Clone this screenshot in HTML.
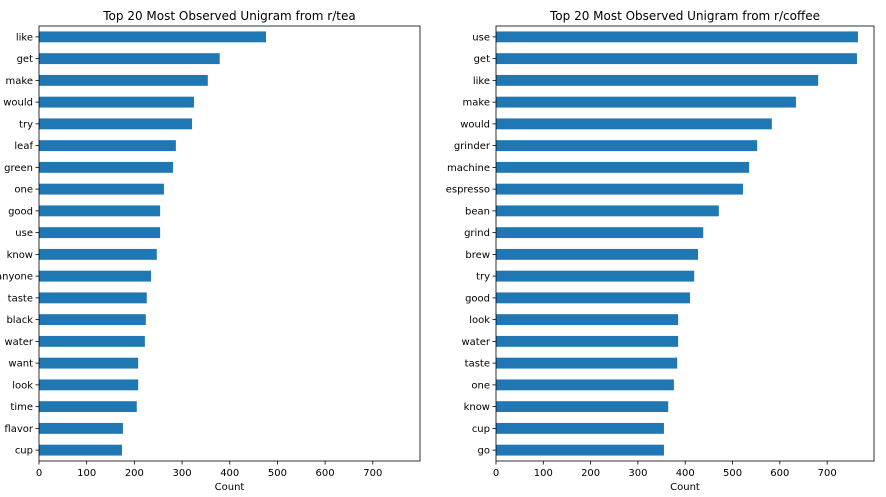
<!DOCTYPE html>
<html><head><meta charset="utf-8"><style>
body{margin:0;background:#fff;}
svg{display:block;font-family:"DejaVu Sans","Liberation Sans",sans-serif;}
</style></head><body>
<svg id="chart" width="886" height="497" viewBox="0 0 886 497"></svg>
<script>
const teaWords = ["like","get","make","would","try","leaf","green","one","good","use","know","anyone","taste","black","water","want","look","time","flavor","cup"];
const teaCounts = [476,379,354,325,321,287,281,262,254,254,247,235,226,224,222,208,208,205,176,174];
const coffeeWords = ["use","get","like","make","would","grinder","machine","espresso","bean","grind","brew","try","good","look","water","taste","one","know","cup","go"];
const coffeeCounts = [765,763,681,634,583,552,535,522,471,438,427,419,410,385,385,383,376,364,355,355];
const xTicks = [0,100,200,300,400,500,600,700];
const xMax = 799;

const svg = document.getElementById('chart');
const NS = 'http://www.w3.org/2000/svg';
function mk(tag, attrs, parent){ const e=document.createElementNS(NS,tag); for(const k in attrs) e.setAttribute(k,attrs[k]); (parent||svg).appendChild(e); return e; }

function panel(name, left, right, title, words, counts){
  const top=26, bottom=461;
  const g = mk('g',{});
  
  
  const xs = v => left + v/xMax*(right-left);
  const step = (bottom-top)/words.length;
  const yc = i => top + step*(i+0.5);
  words.forEach((w,i)=>{
    const r = mk('rect',{x:xs(0),y:yc(i)-step*0.25,width:xs(counts[i])-xs(0),height:step*0.5,fill:'#1f77b4'},g);
    
    
    mk('line',{x1:left-3.5,x2:left,y1:yc(i),y2:yc(i),stroke:'#000','stroke-width':0.8},g);
    const t = mk('text',{x:left-6,y:yc(i)+3.5,'font-size':10,'text-anchor':'end',fill:'#000'},g);
    t.textContent = w;
    
    
  });
  xTicks.forEach(v=>{
    mk('line',{x1:xs(v),x2:xs(v),y1:bottom,y2:bottom+3.5,stroke:'#000','stroke-width':0.8},g);
    const t = mk('text',{x:xs(v),y:bottom+15,'font-size':10,'text-anchor':'middle',fill:'#000'},g);
    t.textContent = v;
    
    
  });
  mk('rect',{x:left,y:top,width:right-left,height:bottom-top,fill:'none',stroke:'#000','stroke-width':0.8},g);
  const tt = mk('text',{x:(left+right)/2,y:top-6,'font-size':12,'text-anchor':'middle',fill:'#000'},g);
  tt.textContent = title;
  
  
  const xl = mk('text',{x:(left+right)/2,y:bottom+29,'font-size':10,'text-anchor':'middle',fill:'#000'},g);
  xl.textContent = 'Count';
  
  
}
panel('tea-chart', 39, 420, 'Top 20 Most Observed Unigram from r/tea', teaWords, teaCounts);
panel('coffee-chart', 496, 874, 'Top 20 Most Observed Unigram from r/coffee', coffeeWords, coffeeCounts);
</script>
</body></html>
